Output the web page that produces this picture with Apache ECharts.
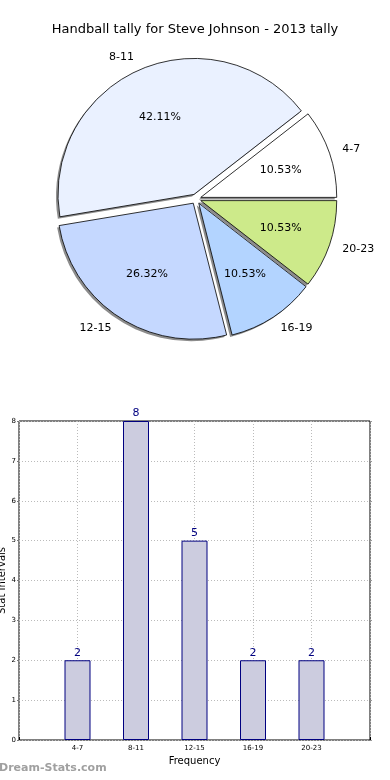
<!DOCTYPE html>
<html><head><meta charset="utf-8">
<script src="https://cdn.jsdelivr.net/npm/echarts@6/dist/echarts.min.js"></script>
<style>html,body{margin:0;padding:0;background:#fff}#c{width:390px;height:780px}</style>
</head><body><div id="c"></div>
<script>
const title = 'Handball tally for Steve Johnson - 2013 tally';
const categories = ['4-7', '8-11', '12-15', '16-19', '20-23'];
const counts = [2, 8, 5, 2, 2];
const sliceColors = ['#ffffff', '#eaf1ff', '#c5d8ff', '#b3d4ff', '#cdea8a'];
const yTicks = [0, 1, 2, 3, 4, 5, 6, 7, 8];

const F = 'DejaVu Sans, sans-serif';
const R = 136;
const center = [196, 199];
const shadowCenter = [center[0] - 2, center[1] + 2];
const total = counts.reduce((a, b) => a + b, 0);

const pieData = categories.map((c, i) => ({
  name: c, value: counts[i], selected: true,
  itemStyle: { color: sliceColors[i] }
}));
const plainData = categories.map((c, i) => ({ name: c, value: counts[i], selected: true }));

const xCats = [''].concat(categories, ['']);
const barData = [null].concat(counts, [null]);

const pieCommon = {
  type: 'pie', startAngle: 0, clockwise: false,
  selectedMode: 'multiple', selectedOffset: 5,
  silent: true, emphasis: { disabled: true }
};

const chart = echarts.init(document.getElementById('c'), null, { renderer: 'canvas' });
chart.setOption({
  animation: false,
  backgroundColor: '#fff',
  title: {
    text: title, left: 'center', top: 18,
    textStyle: { fontFamily: F, fontSize: 13, fontWeight: 'normal', color: '#000' }
  },
  graphic: [{
    type: 'text', left: -1, top: 763,
    style: { text: 'Dream-Stats.com', font: 'bold 11px ' + F, fill: '#a0a0a0' }
  }],
  grid: { left: 19, right: 20, top: 421, bottom: 40, containLabel: false, outerBoundsMode: 'none',
    show: true, borderColor: '#000', borderWidth: 1 },
  xAxis: {
    type: 'category', data: xCats, boundaryGap: false,
    name: 'Frequency', nameLocation: 'middle', nameGap: 16, nameMoveOverlap: false,
    nameTextStyle: { fontFamily: F, fontSize: 10, color: '#000' },
    axisLine: { show: false },
    axisTick: { show: true, inside: true, length: 3, interval: 0, lineStyle: { color: '#000' } },
    axisLabel: { fontFamily: F, fontSize: 7, color: '#000', margin: 5, interval: 0 },
    splitLine: { show: true, interval: 0, lineStyle: { color: '#bbbbbb', type: [1, 2], width: 1 } }
  },
  yAxis: [{
    type: 'value', min: 0, max: 8, interval: 1,
    name: 'Stat Intervals', nameLocation: 'middle', nameGap: 12, nameMoveOverlap: false,
    nameTextStyle: { fontFamily: F, fontSize: 10, color: '#000' },
    axisLine: { show: false },
    axisTick: { show: true, inside: false, length: 2, lineStyle: { color: '#777' } },
    axisLabel: { fontFamily: F, fontSize: 7, color: '#000', margin: 3,
      formatter: v => yTicks.indexOf(v) >= 0 ? String(v) : '' },
    splitLine: { show: true, lineStyle: { color: '#bbbbbb', type: [1, 2], width: 1 } }
  }, {
    type: 'value', min: 0, max: 8, interval: 1, position: 'right',
    axisLine: { show: false },
    axisTick: { show: true, inside: false, length: 2, lineStyle: { color: '#999' } },
    axisLabel: { show: false },
    splitLine: { show: false }
  }],
  series: [
    Object.assign({}, pieCommon, {
      center: shadowCenter, radius: [0, R], z: 1,
      data: plainData,
      itemStyle: { color: '#8c8c8c', borderWidth: 0 },
      label: { show: false }, labelLine: { show: false }
    }),
    Object.assign({}, pieCommon, {
      center: center, radius: [0, R], z: 2,
      data: pieData,
      itemStyle: { borderColor: '#000', borderWidth: 0.8 },
      label: { show: true, position: 'outside', formatter: '{b}',
        fontFamily: F, fontSize: 11, color: '#000', distanceToLabelLine: 0 },
      labelLine: { show: false, length: R * 0.1, length2: 0 }
    }),
    Object.assign({}, pieCommon, {
      center: center, radius: [0, R * 1.2], z: 3,
      data: plainData,
      itemStyle: { color: 'rgba(0,0,0,0)', borderWidth: 0 },
      label: { show: true, position: 'inside',
        formatter: p => (p.value / total * 100).toFixed(2) + '%',
        fontFamily: F, fontSize: 11, color: '#000' },
      labelLine: { show: false }
    }),
    {
      type: 'bar', data: barData, barWidth: 26,
      itemStyle: { color: '#ccccdf', borderColor: '#000080', borderWidth: 1 },
      label: { show: true, position: 'top', distance: 2, fontFamily: F, fontSize: 11, color: '#000080' },
      silent: true
    }
  ]
});
</script></body></html>
